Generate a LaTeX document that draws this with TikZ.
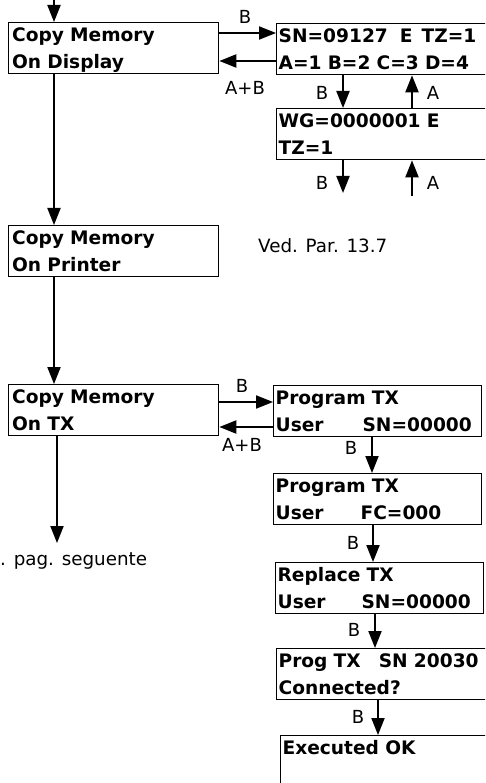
\documentclass[tikz,border=0pt]{standalone}
\usepackage{fontspec}
\setmainfont{DejaVu Sans}
\usetikzlibrary{arrows.meta}
\begin{document}
\begin{tikzpicture}[x=1pt,y=-1pt,
  screen/.style={draw, line width=1.3pt, rectangle, anchor=north west,
    inner xsep=4pt, inner ysep=0pt, align=left, text width=#1,
    font=\bfseries\fontsize{18.6}{27}\selectfont,
    text height=19pt, text depth=32pt},
  lcd/.style={screen=#1, inner xsep=2pt},
  key/.style={font=\fontsize{18}{20}\selectfont, inner sep=0pt},
  note/.style={font=\fontsize{18.3}{20}\selectfont, anchor=base west, inner sep=0pt},
  flow/.style={line width=2pt, -{Triangle[length=17pt,width=13pt]}},
]
\useasboundingbox (0,0) rectangle (485,783);
\fill[white] (0,0) rectangle (485,783);
\clip (0,0) rectangle (485,783);

% menu boxes on the left
\node[screen=202.5pt] (disp) at (7.5,22) {Copy Memory\\On Display};
\node[screen=202.5pt] (prn)  at (7.5,225) {Copy Memory\\On Printer};
\node[screen=202.5pt] (tx)   at (7.5,384) {Copy Memory\\On TX};

% display screens
\node[lcd=225pt] (sn) at (276,23)
  {\mbox{SN=09127\hspace{12pt}E\hspace{9pt}TZ=1}\\\mbox{A=1 B=2 C=3 D=4}};
\node[lcd=225pt] (wg) at (276,108) {WG=0000001 E\\TZ=1};

% transmitter programming screens
\node[lcd=204pt] (p1) at (273,385) {Program TX\\\mbox{User\hspace{39pt}SN=00000}};
\node[lcd=204pt] (p2) at (273,473) {Program TX\\\mbox{User\hspace{37pt}FC=000}};
\node[lcd=204pt] (p3) at (275,562) {Replace TX\\\mbox{User\hspace{36pt}SN=00000}};
\node[lcd=225pt] (p4) at (276,648) {\mbox{Prog TX\hspace{18pt}SN 20030}\\Connected?};
\node[lcd=225pt] (p5) at (280,735) {Executed OK\\\mbox{}};

% notes
\node[note] (vedpar) at (258,253) {Ved. Par. 13.7};
\node[note] (seg) at (0,565) {. pag. seguente};

% main flow
\coordinate (start) at (54,-10);
\draw[flow] (start) -- (start |- disp.north);
\draw[flow] (54,0 |- disp.south) -- (54,0 |- prn.north);
\draw[flow] (54,0 |- prn.south) -- (54,0 |- tx.north);
\coordinate (next) at (57,543);
\draw[flow] (57,0 |- tx.south) -- (next);

% display branch
\draw[flow] (disp.east |- 0,33) -- (sn.west |- 0,33);
\draw[flow] (sn.west |- 0,61) -- (disp.east |- 0,61);
\node[key] (kb1) at (245,17) {B};
\node[key] (kab1) at (245,88) {A+B};
\draw[flow] (343,0 |- sn.south) -- (343,0 |- wg.north);
\draw[flow] (412,0 |- wg.north) -- (412,0 |- sn.south);
\node[key] (kb2) at (322,93) {B};
\node[key] (ka2) at (433,93) {A};
\coordinate (wgout) at (343,193);
\coordinate (wgin) at (412,196);
\draw[flow] (343,0 |- wg.south) -- (wgout);
\draw[flow] (wgin) -- (412,0 |- wg.south);
\node[key] (kb3) at (322,183) {B};
\node[key] (ka3) at (433,183) {A};

% transmitter branch
\draw[flow] (tx.east |- 0,402) -- (p1.west |- 0,402);
\draw[flow] (p1.west |- 0,427) -- (tx.east |- 0,427);
\node[key] (kb4) at (242,386) {B};
\node[key] (kab4) at (242,445) {A+B};
\draw[flow] (372,0 |- p1.south) -- (372,0 |- p2.north);
\node[key] (kb5) at (351,448) {B};
\draw[flow] (373,0 |- p2.south) -- (373,0 |- p3.north);
\node[key] (kb6) at (353,543) {B};
\draw[flow] (375,0 |- p3.south) -- (375,0 |- p4.north);
\node[key] (kb7) at (354,630) {B};
\draw[flow] (378,0 |- p4.south) -- (378,0 |- p5.north);
\node[key] (kb8) at (358,717) {B};
\end{tikzpicture}
\end{document}
